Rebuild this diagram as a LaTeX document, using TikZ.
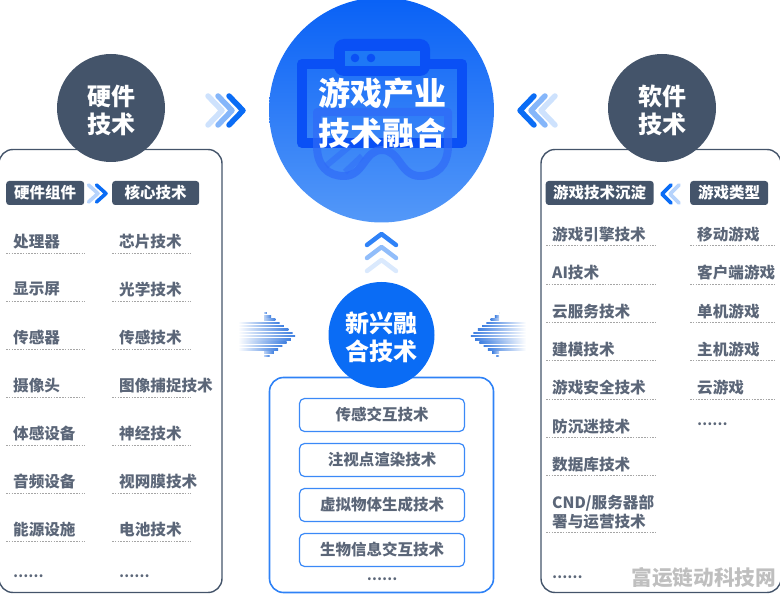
\documentclass[tikz,border=0pt]{standalone}
\usepackage{fontspec}
\setmainfont{Noto Sans CJK SC}
\usetikzlibrary{calc}
\definecolor{slate}{HTML}{44546A}
\definecolor{itemgray}{HTML}{5B6678}
\definecolor{brand}{HTML}{0A6CF5}
\definecolor{icon}{HTML}{0A50F5}
\definecolor{stripeblue}{HTML}{3F7FE0}
\tikzset{
 panel/.style={draw=slate,line width=1.4pt,rounded corners=14pt},
 bluepanel/.style={draw=brand!85!white,line width=1.6pt,rounded corners=14pt},
 head/.style={fill=slate,rounded corners=3pt,text=white,font=\fontsize{15.5}{16}\selectfont\bfseries,minimum height=24pt,inner sep=0pt,anchor=west},
 item/.style={text=itemgray,font=\fontsize{15.6}{19}\selectfont\bfseries,anchor=west,inner sep=0pt,align=left},
 dotrow/.style={text=itemgray,font=\fontsize{13.5}{15}\selectfont\bfseries,anchor=west,inner sep=0pt},
 dots/.style={draw=gray!70,line width=.7pt,dash pattern=on 1.6pt off 1.2pt},
 slatecirc/.style={circle,fill=slate,minimum size=108pt,inner sep=0pt},
 bluecirc/.style={circle,fill=brand,minimum size=106pt,inner sep=0pt},
 circtext/.style={text=white,align=center,inner sep=0pt,font=\fontsize{24}{28}\selectfont\bfseries},
 techbox/.style={draw=brand!80!white,line width=1.2pt,rounded corners=5pt,minimum width=165pt,minimum height=33pt,inner sep=0pt,fill=white,text=itemgray,font=\fontsize{15.5}{18}\selectfont\bfseries},
 chev/.style={line width=5.5pt,line cap=round,line join=round},
 chevs/.style={line width=3.6pt,line cap=round,line join=round},
}
\begin{document}
\begin{tikzpicture}[x=1pt,y=-1pt]
\useasboundingbox (0,0) rectangle (780,596);
% panels
\draw[panel] (-1,149.5) rectangle (222,592.5);
\draw[panel] (541,149.5) rectangle (781,592.5);
\draw[bluepanel] (269.5,377.5) rectangle (493.5,592.5);
% main circle
\begin{scope}
\clip (0,-5) rectangle (780,300);
\shade[top color=brand!90!blue,bottom color=brand!70!white] (381.5,110) circle (112.5);
\end{scope}
% icon
\draw[icon,line width=10pt,line join=round] (302,64) rectangle (462,143);
\fill[icon,rounded corners=10pt] (334,39) rectangle (430,76);
\fill[brand!92!white] (345,51) rectangle (420,66);
\fill[icon] (355,58) circle (4.3) (371,58) circle (4.3);
\draw[icon!85!white,opacity=.7,line width=8pt,line join=round] (317,112) -- (448,112) -- (448,146) .. controls (448,166) and (436,176) .. (420,176) .. controls (400,176) and (400,150) .. (382,150) .. controls (364,150) and (364,176) .. (344,176) .. controls (328,176) and (317,166) .. (317,146) -- cycle;
\draw[icon!85!white,opacity=.5,line width=6pt] (326,166) -- (350,146) (345,172) -- (362,156);
\node[text=white,align=center,font=\fontsize{32}{40}\selectfont\bfseries,inner sep=0pt] (main) at (382,113) {游戏产业\\技术融合};
% circles
\node[slatecirc] (hw) at (111,108) {};
\node[circtext] (hwt) at (111,110) {硬件\\技术};
\node[slatecirc] (sw) at (662,108) {};
\node[circtext] (swt) at (662,110) {软件\\技术};
\node[bluecirc] (nt) at (381.5,335) {};
\node[circtext] (ntt) at (381.5,337) {新兴融\\合技术};
% big chevrons
\foreach \o/\c in {0/20,10/50,21/100}{
 \draw[chev,brand!\c!white] (208+\o,96) -- (222+\o,110.5) -- (208+\o,125);
 \draw[chev,brand!\c!white] (555-\o,96) -- (541-\o,110.5) -- (555-\o,125);
}
\foreach \o/\c in {26/15,13/45,0/85}{
 \draw[line width=4.5pt,line cap=round,line join=round,brand!\c!white] (367,245+\o) -- (381.5,234+\o) -- (396,245+\o);
}
% small header chevrons
\foreach \o/\c in {0/30,8/100}{
 \draw[chevs,brand!\c!white] (88.5+\o,185) -- (98+\o,193.5) -- (88.5+\o,202);
 \draw[chevs,brand!\c!white] (679-\o,185) -- (670-\o,194) -- (679-\o,203);
}
% striped arrows
\foreach \d in {-22.5,-19.2,-15.9,-12.6,-9.3,-6,-2.7,.6,3.9,7.2,10.5,13.8,17.1,20.4}{
 \pgfmathsetmacro{\aa}{abs(\d)}
 \pgfmathsetmacro{\st}{\aa<15.5?238:264}
 \pgfmathsetmacro{\en}{296-\aa*31/24}
 \pgfmathsetmacro{\stb}{\aa<15.5?526:499}
 \pgfmathsetmacro{\enb}{470+\aa*31/24}
 \pgfmathsetmacro{\yy}{335.5+\d}
 \pgfmathtruncatemacro{\base}{\aa<15.5?0:35}
 \shade[left color=stripeblue!\base!white,right color=stripeblue] (\st,\yy-.75) rectangle (\en,\yy+.75);
 \shade[left color=stripeblue,right color=stripeblue!\base!white] (\enb,\yy-.75) rectangle (\stb,\yy+.75);
}
% left headers
\node[head,minimum width=78pt] (h1) at (6,193) {硬件组件};
\node[head,minimum width=87pt] (h2) at (112,193) {核心技术};
\foreach \t [count=\i] in {处理器,显示屏,传感器,摄像头,体感设备,音频设备,能源设施}{
 \pgfmathsetmacro{\yy}{241+48*(\i-1)}
 \node[item] (la\i) at (13,\yy+.4) {\t};
 \draw[dots] (6,\yy+12) -- (85,\yy+12);
}
\foreach \t [count=\i] in {芯片技术,光学技术,传感技术,图像捕捉技术,神经技术,视网膜技术,电池技术}{
 \pgfmathsetmacro{\yy}{241+48*(\i-1)}
 \node[item] (lb\i) at (119,\yy+.4) {\t};
 \draw[dots] (112,\yy+12) -- (191,\yy+12);
}
\node[dotrow] (la8) at (13,576) {……};
\node[dotrow] (lb8) at (119,576) {……};
% right headers
\node[head,minimum width=108pt] (h3) at (545.5,193) {游戏技术沉淀};
\node[head,minimum width=78pt] (h4) at (690,193) {游戏类型};
\foreach \t/\yy in {游戏引擎技术/234,AI技术/272.5,云服务技术/311,建模技术/349,游戏安全技术/387.5,防沉迷技术/426,数据库技术/464}{
 \node[item] (r-\yy) at (552,\yy+.4) {\t};
 \draw[dots] (546,\yy+11.7) -- (656,\yy+11.7);
}
\node[item] (rc) at (552,512) {CND/服务器部\\署与运营技术};
\draw[dots] (546,532.5) -- (656,532.5);
\node[dotrow] (rd) at (552,577) {……};
\foreach \t/\yy in {移动游戏/234,客户端游戏/272.5,单机游戏/311,主机游戏/349,云游戏/387.5}{
 \node[item] (s-\yy) at (697,\yy+.4) {\t};
 \draw[dots] (690,\yy+11.7) -- (775,\yy+11.7);
}
\node[dotrow] (sd) at (697,424) {……};
% tech boxes
\node[techbox] (t1) at (382,415) {传感交互技术};
\node[techbox] (t2) at (382,460) {注视点渲染技术};
\node[techbox] (t3) at (382,505) {虚拟物体生成技术};
\node[techbox] (t4) at (382,550) {生物信息交互技术};
\node[dotrow,anchor=center] (td) at (382,579) {……};
% watermark
\node[text=gray!50,font=\fontsize{20.7}{22}\selectfont\bfseries,inner sep=0pt,anchor=east] (wm) at (776.5,578) {富运链动科技网};
\end{tikzpicture}
\end{document}
